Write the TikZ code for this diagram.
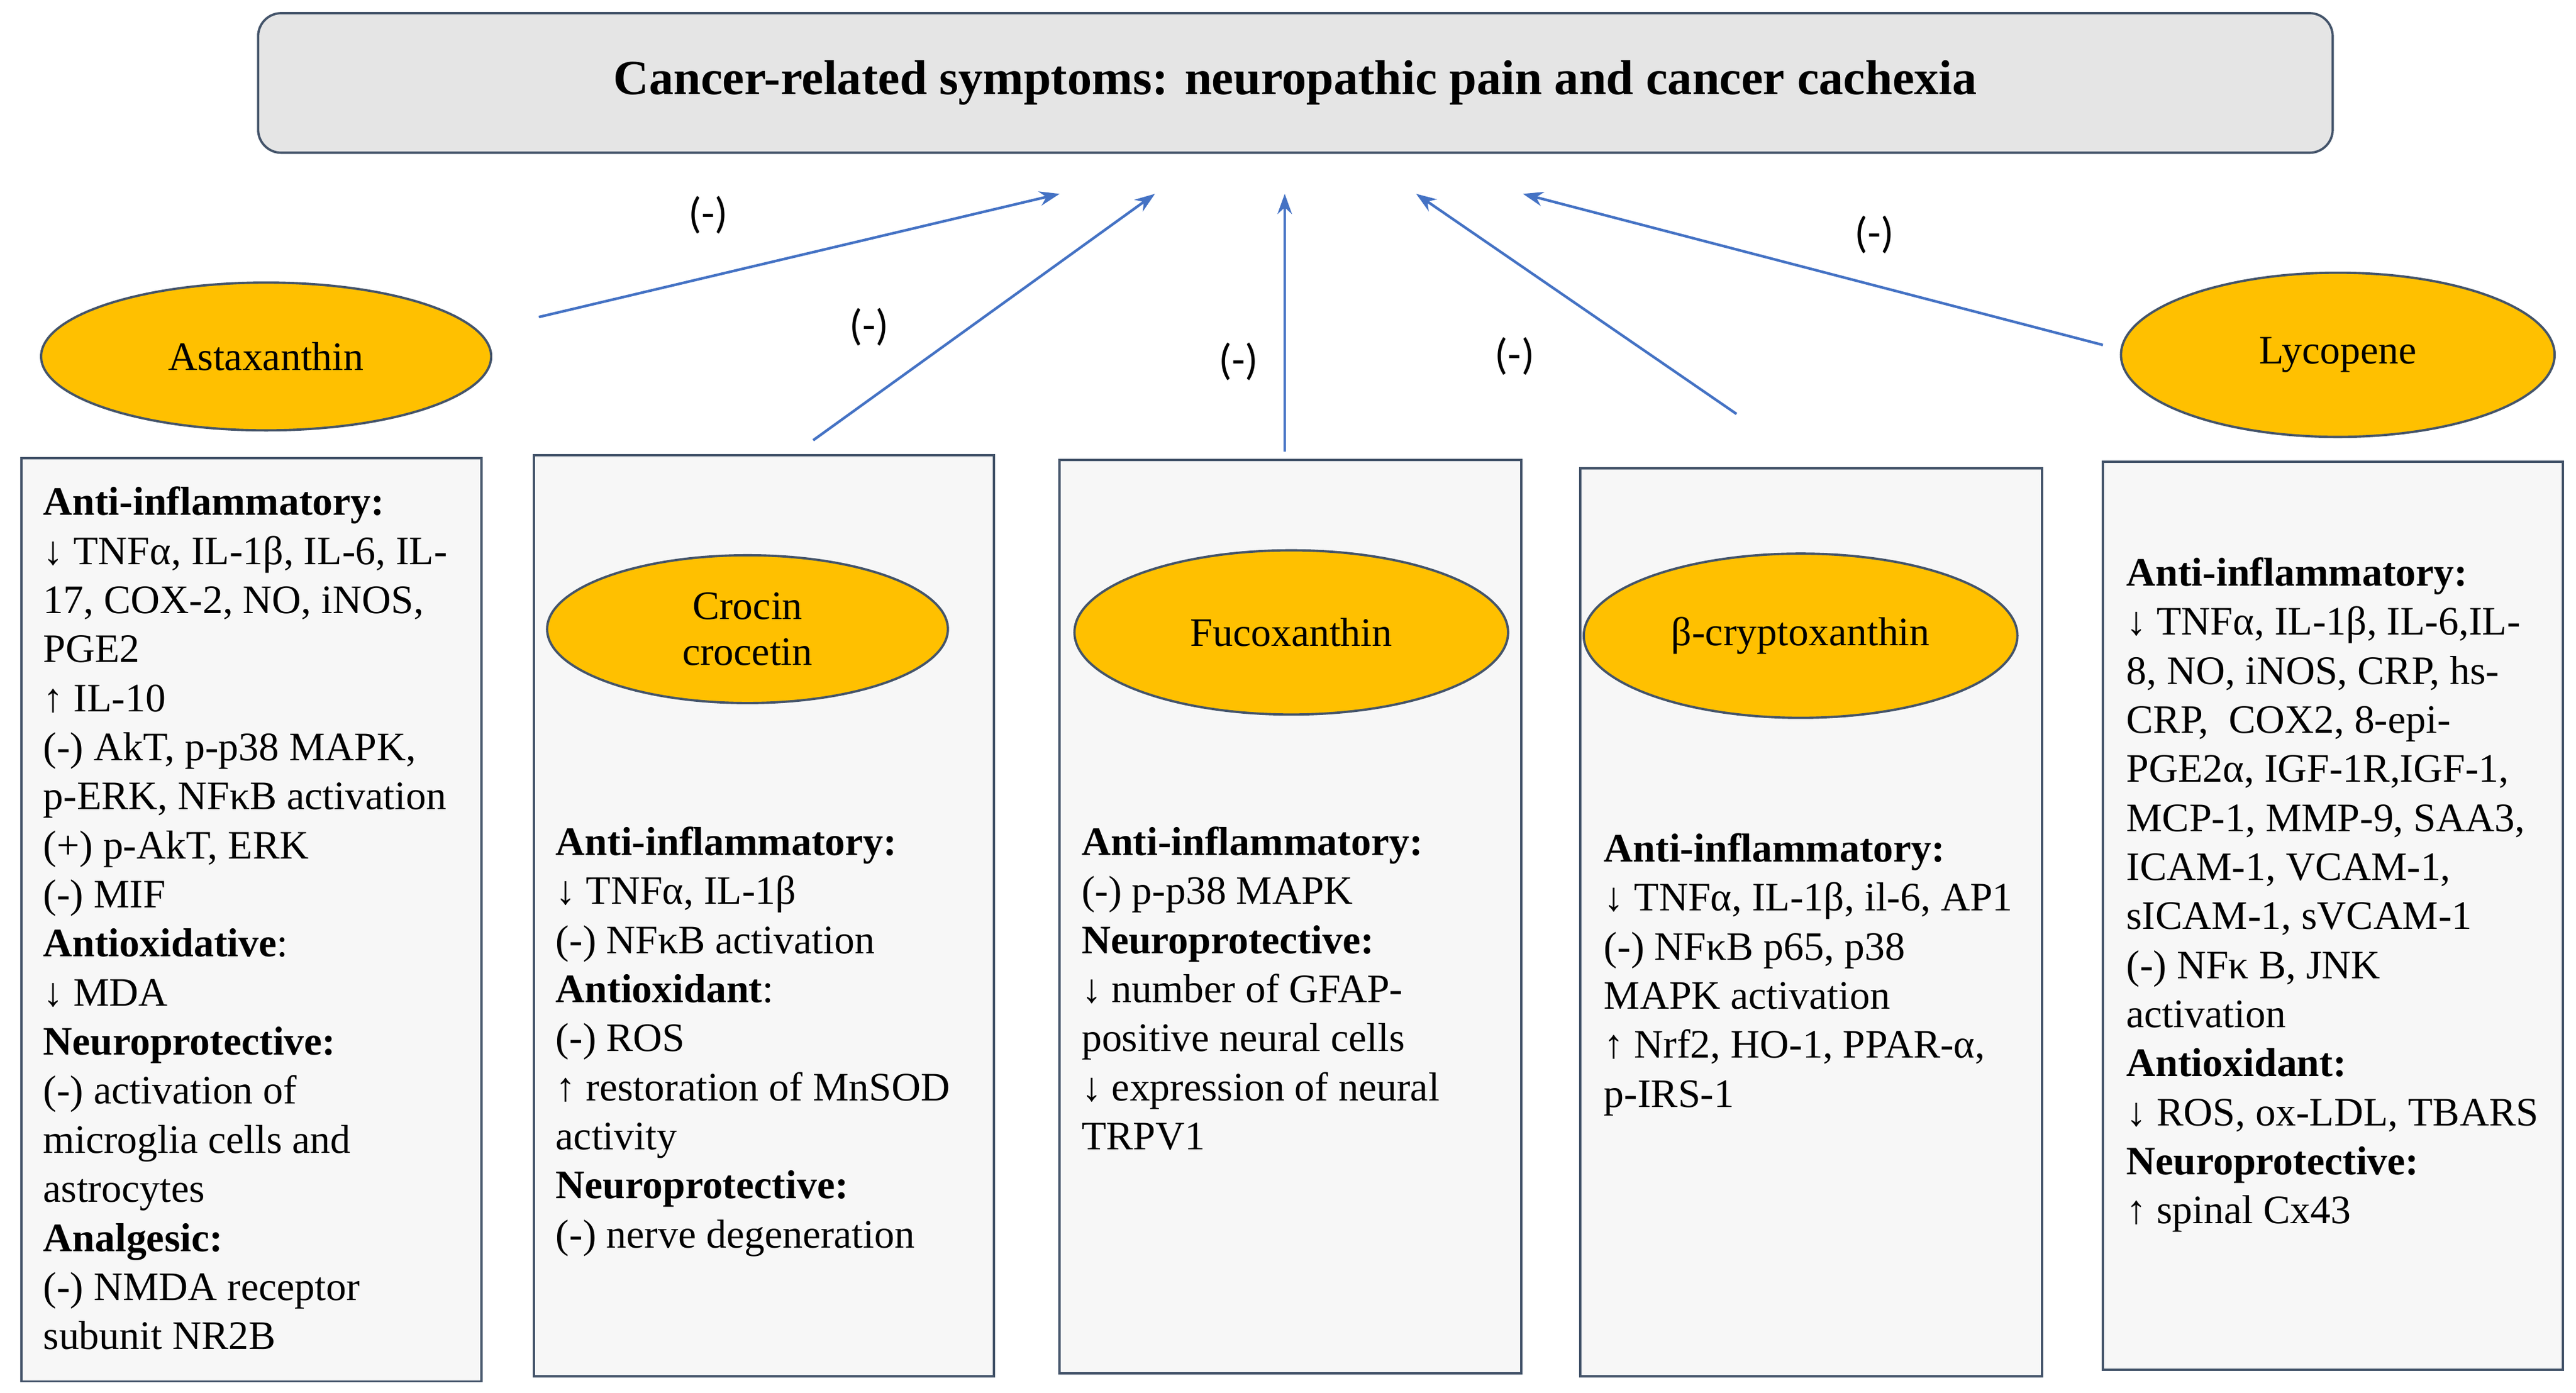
\documentclass[tikz,border=0pt]{standalone}
\usepackage{fontspec}
\setmainfont{Liberation Serif}
\newfontfamily\lbl{Carlito}
\usetikzlibrary{shapes.geometric,arrows.meta}
\definecolor{bord}{HTML}{44546A}
\definecolor{arr}{HTML}{4472C4}
\definecolor{gold}{HTML}{FFC000}
\begin{document}
\begin{tikzpicture}[x=0.02cm,y=-0.02cm,
  el/.style={ellipse,draw=bord,fill=gold,line width=0.8pt,font=\fontsize{14}{16}\selectfont,align=center,inner sep=0},
  box/.style={draw=bord,fill=gray!6,line width=0.8pt,inner sep=0},
  txt/.style={anchor=north west,inner sep=0,align=left,font=\fontsize{14}{17}\selectfont},
  ar/.style={draw=arr,line width=0.9pt,-{Stealth[length=7pt,width=5pt]}},
  lb/.style={font=\lbl\fontsize{15}{17}\selectfont}]
\useasboundingbox (0,0) rectangle (1568,848);
\node[draw=bord,fill=gray!20,rounded corners=8pt,line width=0.8pt,minimum width=25.26cm,minimum height=1.7cm,font=\bfseries\fontsize{17}{20}\selectfont] (title) at (788.5,50.5) {Cancer-related symptoms: neuropathic pain and cancer cachexia};
\node[box,minimum width=5.6cm,minimum height=11.24cm] (b1) at (153,560) {};
\node[box,minimum width=5.6cm,minimum height=11.22cm] (b2) at (465,557.5) {};
\node[box,minimum width=5.62cm,minimum height=11.12cm] (b3) at (785.5,558) {};
\node[box,minimum width=5.62cm,minimum height=11.06cm] (b4) at (1102.5,561.5) {};
\node[box,minimum width=5.6cm,minimum height=11.06cm] (b5) at (1420,557.5) {};
\node[el,minimum width=5.48cm,minimum height=1.8cm] (asta) at (162,217) {Astaxanthin};
\node[el,minimum width=5.28cm,minimum height=2cm] (lyco) at (1423,216) {Lycopene};
\node[el,minimum width=4.88cm,minimum height=1.8cm] (croc) at (455,383) {Crocin\\crocetin};
\node[el,minimum width=5.28cm,minimum height=2cm] (fuco) at (786,385) {Fucoxanthin};
\node[el,minimum width=5.28cm,minimum height=2cm] (bcry) at (1096,387) {β-cryptoxanthin};
\node[txt] (t1) at (26,296) {\textbf{Anti-inflammatory:}\\↓ TNFα, IL-1β, IL-6, IL-\\17, COX-2, NO, iNOS,\\PGE2\\↑ IL-10\\(-) AkT, p-p38 MAPK,\\p-ERK, NFκB activation\\(+) p-AkT, ERK\\(-) MIF\\\textbf{Antioxidative}:\\↓ MDA\\\textbf{Neuroprotective:}\\(-) activation of\\microglia cells and\\astrocytes\\\textbf{Analgesic:}\\(-) NMDA receptor\\subunit NR2B};
\node[txt] (t2) at (338,503) {\textbf{Anti-inflammatory:}\\↓ TNFα, IL-1β\\(-) NFκB activation\\\textbf{Antioxidant}:\\(-) ROS\\↑ restoration of MnSOD\\activity\\\textbf{Neuroprotective:}\\(-) nerve degeneration};
\node[txt] (t3) at (658,503) {\textbf{Anti-inflammatory:}\\(-) p-p38 MAPK\\\textbf{Neuroprotective:}\\↓ number of GFAP-\\positive neural cells\\↓ expression of neural\\TRPV1};
\node[txt] (t4) at (976,507) {\textbf{Anti-inflammatory:}\\↓ TNFα, IL-1β, il-6, AP1\\(-) NFκB p65, p38\\MAPK activation\\↑ Nrf2, HO-1, PPAR-α,\\p-IRS-1};
\node[txt] (t5) at (1294,339) {\textbf{Anti-inflammatory:}\\↓ TNFα, IL-1β, IL-6,IL-\\8, NO, iNOS, CRP, hs-\\CRP,\ \ COX2, 8-epi-\\PGE2α, IGF-1R,IGF-1,\\MCP-1, MMP-9, SAA3,\\ICAM-1, VCAM-1,\\sICAM-1, sVCAM-1\\(-) NFκ B, JNK\\activation\\\textbf{Antioxidant:}\\↓ ROS, ox-LDL, TBARS\\\textbf{Neuroprotective:}\\↑ spinal Cx43};
\coordinate (s1) at (328,193); \coordinate (e1) at (645,118);
\coordinate (s2) at (495,268); \coordinate (e2) at (703,118);
\coordinate (s3) at (782,275); \coordinate (e3) at (782,118);
\coordinate (s4) at (1057,252); \coordinate (e4) at (862,118);
\coordinate (s5) at (1280,210); \coordinate (e5) at (927,118);
\foreach \i in {1,...,5} \draw[ar] (s\i) -- (e\i);
\node[lb] (l1) at (431,131) {(-)};
\node[lb] (l2) at (529,199) {(-)};
\node[lb] (l3) at (754,220) {(-)};
\node[lb] (l4) at (922,217) {(-)};
\node[lb] (l5) at (1141,143) {(-)};
\end{tikzpicture}
\end{document}
